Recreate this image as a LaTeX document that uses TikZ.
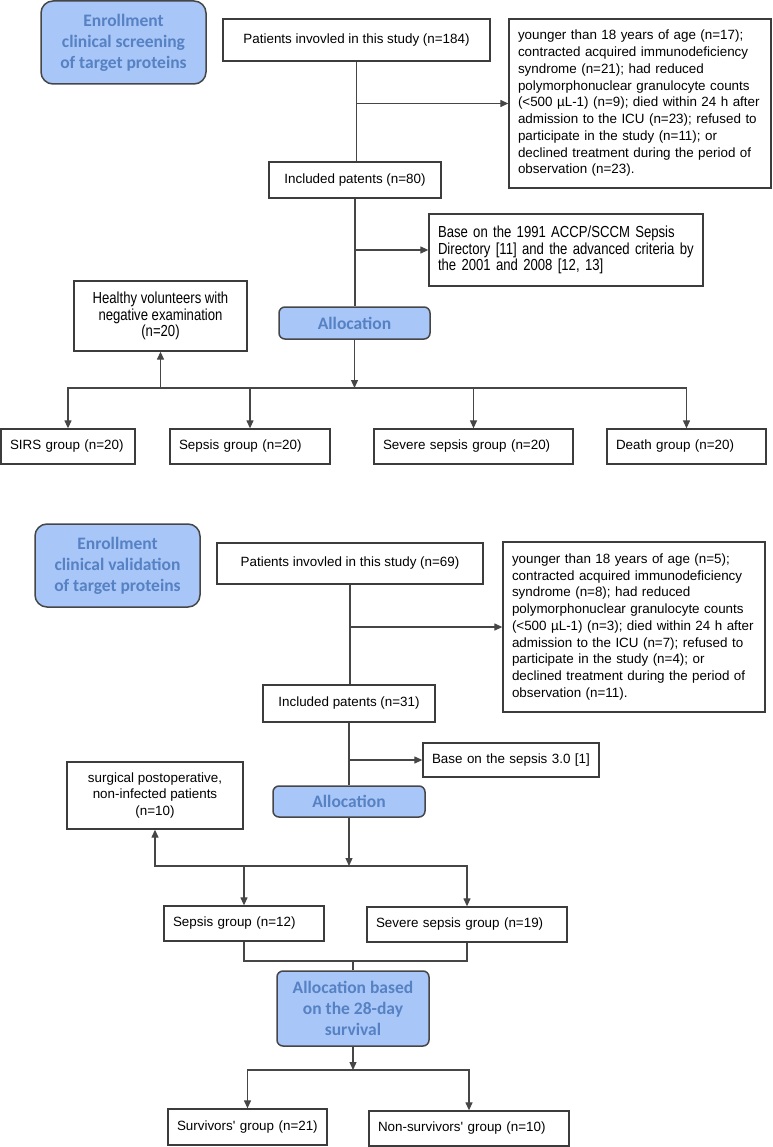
\documentclass[tikz,border=0pt]{standalone}
\usepackage{fontspec}
\setmainfont{Liberation Sans}
\newfontfamily\narrowfam[FakeStretch=0.82]{Liberation Sans}
\newfontfamily\headfam{Carlito}
\usetikzlibrary{arrows.meta}

\definecolor{headfill}{RGB}{168,198,248}
\definecolor{headtext}{RGB}{86,129,194}
\definecolor{headgray}{RGB}{70,70,70}
\definecolor{boxgray}{RGB}{60,60,60}
\definecolor{linegray}{RGB}{70,70,70}

\newcommand{\bodyfont}{\fontsize{13.4}{16.75}\selectfont}
\newcommand{\narrowfont}{\narrowfam\fontsize{16}{16.5}\selectfont}
\newcommand{\headfont}{\headfam\bfseries\fontsize{17.5}{21}\selectfont}

\tikzset{
	box/.style={draw=boxgray, line width=1.3pt, fill=white, inner sep=0pt, font=\bodyfont},
	cbox/.style={box, align=center},
	lbox/.style={box, align=left, inner xsep=9pt},
	gbox/.style={box, align=left, inner xsep=9pt, minimum height=35pt},
	head/.style={draw=headgray, line width=1.5pt, fill=headfill, text=headtext, font=\headfont, align=center, inner sep=0pt, rounded corners=12pt},
	alloc/.style={head, rounded corners=6pt},
	link/.style={linegray, line width=1.2pt},
	elbow/.style={to path={-| (\tikztotarget)}},
}

\begin{document}
\begin{tikzpicture}[x=1pt, y=-1pt, >={Triangle[length=8pt,width=7pt]}]
		\useasboundingbox (0,0) rectangle (772,1147);

		% screening part
		\draw (123.5,42.5) node[head, minimum width=165pt, minimum height=83pt] (enrollA) {Enrollment\\clinical screening\\of target proteins};
		\draw (356.5,40) node[cbox, minimum width=267pt, minimum height=42pt] (patA) {Patients invovled in this study (n=184)};
		\draw (640,103.5) node[lbox, text width=244pt, minimum height=169pt] (exclA) {younger than 18 years of age (n=17);\\contracted acquired immunodeficiency\\syndrome (n=21); had reduced\\polymorphonuclear granulocyte counts\\(<500 µL-1) (n=9); died within 24 h after\\admission to the ICU (n=23); refused to\\participate in the study (n=11); or\\declined treatment during the period of\\observation (n=23).};
		\draw (355,180) node[cbox, minimum width=172pt, minimum height=36pt] (inclA) {Included patents (n=80)};
		\draw (566,250) node[lbox, font=\narrowfont, text width=256pt, minimum height=72pt] (critA) {Base on the 1991 ACCP/SCCM Sepsis\\Directory [11] and the advanced criteria by\\the 2001 and 2008 [12, 13]};
		\draw (160.5,316) node[cbox, font=\narrowfont, minimum width=173pt, minimum height=70pt] (healthy) {Healthy volunteers with\\negative examination\\(n=20)};
		\draw (354.5,323) node[alloc, minimum width=151pt, minimum height=32pt] (allocA) {Allocation};
		\coordinate (splitA) at (354.5,388);
		\draw (68,446.5) node[gbox, text width=116pt] (sirs) {SIRS group (n=20)};
		\draw (250,446.5) node[gbox, text width=142pt] (sepsisA) {Sepsis group (n=20)};
		\draw (473.5,446.5) node[gbox, text width=181pt] (severeA) {Severe sepsis group (n=20)};
		\draw (686.5,446.5) node[gbox, text width=141pt] (death) {Death group (n=20)};

		\path[link]
			(patA)	edge	(patA.south |- inclA.north)
			(inclA)	edge	(inclA.south |- allocA.north);
		\path[->, link]
			(patA.south |- exclA.west)	edge	(exclA)
			(inclA.south |- critA.west)	edge	(critA)
			(allocA)	edge	(splitA)
			(splitA)	edge	[elbow]	(healthy)
						edge	[elbow]	(sirs)
						edge	[elbow]	(sepsisA)
						edge	[elbow]	(severeA)
						edge	[elbow]	(death);

		% validation part
		\draw (117.5,565.5) node[head, minimum width=165pt, minimum height=83pt] (enrollB) {Enrollment\\clinical validation\\of target proteins};
		\draw (350,563.5) node[cbox, minimum width=266pt, minimum height=41pt] (patB) {Patients invovled in this study (n=69)};
		\draw (634,627) node[lbox, text width=244pt, minimum height=170pt] (exclB) {younger than 18 years of age (n=5);\\contracted acquired immunodeficiency\\syndrome (n=8); had reduced\\polymorphonuclear granulocyte counts\\(<500 µL-1) (n=3); died within 24 h after\\admission to the ICU (n=7); refused to\\participate in the study (n=4); or\\declined treatment during the period of\\observation (n=11).};
		\draw (349,703.5) node[cbox, minimum width=172pt, minimum height=37pt] (inclB) {Included patents (n=31)};
		\draw (511,760) node[lbox, text width=158pt, minimum height=34pt] (critB) {Base on the sepsis 3.0 [1]};
		\draw (155,795.5) node[cbox, minimum width=176pt, minimum height=67pt] (surgical) {surgical postoperative,\\non-infected patients\\(n=10)};
		\draw (349,801.5) node[alloc, minimum width=152pt, minimum height=31pt] (allocB) {Allocation};
		\coordinate (splitB) at (349,866);
		\draw (244,923.5) node[gbox, text width=142pt] (sepsisB) {Sepsis group (n=12)};
		\draw (467,924.5) node[gbox, text width=182pt] (severeB) {Severe sepsis group (n=19)};
		\coordinate (joinB) at (353,961);
		\draw (353,1008.5) node[alloc, minimum width=152pt, minimum height=75pt] (allocC) {Allocation based\\on the 28-day\\survival};
		\coordinate (splitC) at (353,1070);
		\draw (247.5,1127) node[gbox, text width=141pt, minimum height=36pt] (surv) {Survivors\textquotesingle\ group (n=21)};
		\draw (469,1128.5) node[gbox, text width=182pt] (nonsurv) {Non-survivors\textquotesingle\ group (n=10)};

		\path[link]
			(patB)	edge	(patB.south |- inclB.north)
			(inclB)	edge	(inclB.south |- allocB.north)
			(joinB)	edge	(allocC);
		\draw[link] (sepsisB.south) |- (joinB) -| (severeB.south);
		\path[->, link]
			(patB.south |- exclB.west)	edge	(exclB)
			(inclB.south |- critB.west)	edge	(critB)
			(allocB)	edge	(splitB)
			(splitB)	edge	[elbow]	(surgical)
						edge	[elbow]	(sepsisB)
						edge	[elbow]	(severeB)
			(allocC)	edge	(splitC)
			(splitC)	edge	[elbow]	(surv)
						edge	[elbow]	(nonsurv);
	\end{tikzpicture}
\end{document}
